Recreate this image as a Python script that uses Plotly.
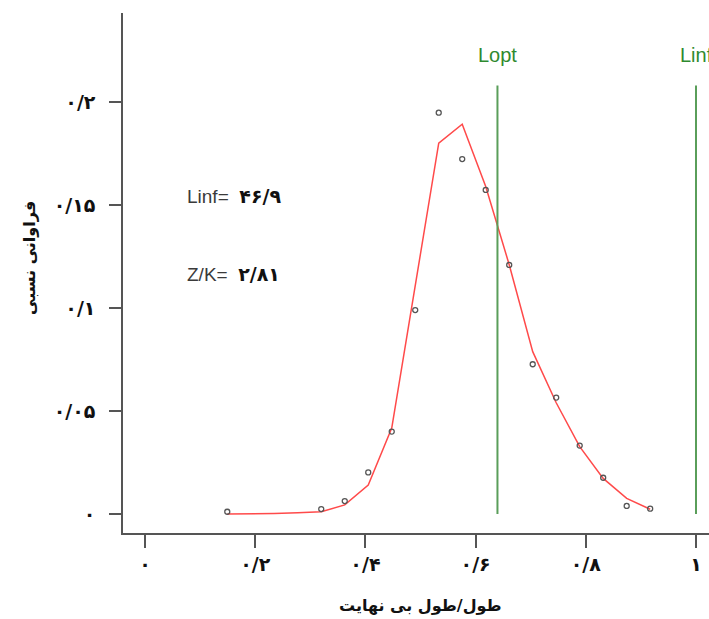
import plotly.graph_objects as go

# ---- data ----
Linf = 46.9
Lopt = 30.0
L_obs = [7, 15, 17, 19, 21, 23, 25, 27, 29, 31, 33, 35, 37, 39, 41, 43]
freq_obs = [0.0011, 0.0024, 0.0063, 0.0202, 0.0400, 0.0990, 0.1948, 0.1723,
            0.1573, 0.1209, 0.0727, 0.0565, 0.0332, 0.0176, 0.0039, 0.0026]
L_fit = [7, 9, 11, 13, 15, 17, 19, 21, 23, 25, 27, 29, 31, 33, 35, 37, 39, 41, 43]
freq_fit = [0.0, 0.0, 0.0003, 0.0006, 0.0011, 0.0044, 0.0141, 0.0417, 0.110,
            0.180, 0.1892, 0.159, 0.121, 0.0788, 0.054, 0.0327, 0.0173, 0.0076, 0.0023]
x_ticks = [0, 0.2, 0.4, 0.6, 0.8, 1.0]
x_tick_labels = ["۰", "۰/۲", "۰/۴", "۰/۶", "۰/۸", "۱"]
y_ticks = [0, 0.05, 0.1, 0.15, 0.2]
y_tick_labels = ["۰", "۰/۰۵", "۰/۱", "۰/۱۵", "۰/۲"]
ref_names = ["Lopt", "Linf"]
ref_values = [Lopt, Linf]
ref_top = 0.208
text_keys = ["Linf=", "Z/K="]
text_vals = ["۴۶/۹", "۲/۸۱"]
text_y = [0.1544, 0.1165]

x_obs = [l / Linf for l in L_obs]
x_fit = [l / Linf for l in L_fit]
ref_x = [v / Linf for v in ref_values]

fig = go.Figure()
fig.add_trace(go.Scatter(x=x_fit, y=freq_fit, mode="lines",
                         line=dict(color="#ff4a4a", width=1.5), showlegend=False))
for rx in ref_x:
    fig.add_trace(go.Scatter(x=[rx, rx], y=[0, ref_top], mode="lines",
                             line=dict(color="#5a9e5a", width=2), showlegend=False))
fig.add_trace(go.Scatter(x=x_obs, y=freq_obs, mode="markers",
                         marker=dict(symbol="circle-open", size=5,
                                     color="#555555", line=dict(width=1.3)),
                         showlegend=False))

for name, rx in zip(ref_names, ref_x):
    fig.add_annotation(x=rx, y=0.2228, text=name, showarrow=False,
                       xanchor="center", yanchor="middle",
                       font=dict(family="Liberation Sans, Arial, sans-serif",
                                 size=20, color="#2f8a2f"))
for k, v, ty in zip(text_keys, text_vals, text_y):
    fig.add_annotation(x=0.0726, y=ty,
                       text=k + "  <b><span style='font-family:DejaVu Sans;color:#111111;font-size:19px'>" + v + "</span></b>",
                       showarrow=False, xanchor="left", yanchor="middle",
                       font=dict(family="Liberation Sans, Arial, sans-serif",
                                 size=19, color="#3a3a3a"))

fig.add_annotation(xref="paper", yref="paper", x=0.507, y=-0.140,
                   text="<b>طول/طول بی نهایت</b>", showarrow=False,
                   xanchor="center", yanchor="middle",
                   font=dict(family="DejaVu Sans, sans-serif", size=16, color="#111111"))
fig.add_annotation(xref="paper", yref="paper", x=-0.1587, y=0.529,
                   text="<b>فراوانی نسبی</b>", showarrow=False, textangle=-90,
                   xanchor="center", yanchor="middle",
                   font=dict(family="DejaVu Sans, sans-serif", size=16, color="#111111"))

axis_font = dict(family="DejaVu Sans, sans-serif", size=19, color="#111111", weight="bold")
fig.update_layout(
    width=709, height=619,
    margin=dict(l=123, r=0, t=13, b=86),
    paper_bgcolor="white", plot_bgcolor="white",
    xaxis=dict(range=[-0.040, 1.0236], tickvals=x_ticks, ticktext=x_tick_labels,
               showgrid=False, zeroline=False, showline=True, linecolor="#555555",
               linewidth=1.5, ticks="outside", ticklen=13, tickwidth=1.5,
               tickcolor="#555555", tickfont=axis_font, ticklabelstandoff=0),
    yaxis=dict(range=[-0.00922, 0.2432], tickvals=y_ticks, ticktext=y_tick_labels,
               showgrid=False, zeroline=False, showline=True, linecolor="#555555",
               linewidth=1.5, ticks="outside", ticklen=12, tickwidth=1.5,
               tickcolor="#555555", tickfont=axis_font, ticklabelstandoff=10),
)

fig.write_html("out.html", config={"displayModeBar": False},
               post_script="document.body.style.margin='0px';document.body.style.overflow='hidden';")
